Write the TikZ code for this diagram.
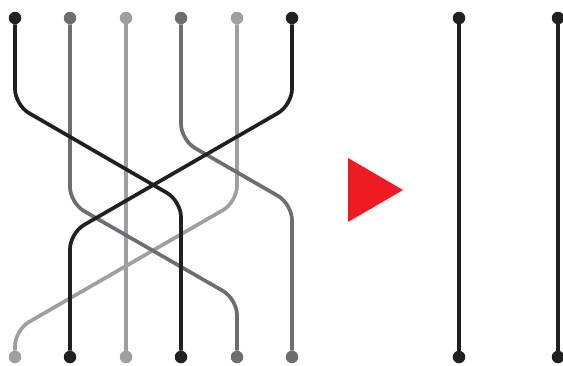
\documentclass[tikz,border=0pt]{standalone}
\usepackage{xcolor}
\definecolor{strblack}{HTML}{231F20}
\definecolor{strdark}{HTML}{6D6E71}
\definecolor{strlight}{HTML}{9D9FA2}
\definecolor{arrred}{HTML}{ED1C24}
\begin{document}
\begin{tikzpicture}[x=1pt,y=-1pt,
  dot/.style={circle,fill=#1,inner sep=0pt,minimum size=12.5pt},
  strand/.style={draw=#1,line width=3.7pt,rounded corners=16pt},
]
\useasboundingbox (0,0) rectangle (563,365);
% top dots
\node[dot=strblack] (t1) at (15,18) {};
\node[dot=strdark]  (t2) at (70,18) {};
\node[dot=strlight] (t3) at (126,18) {};
\node[dot=strdark]  (t4) at (181,18) {};
\node[dot=strlight] (t5) at (237,18) {};
\node[dot=strblack] (t6) at (292,18) {};
% bottom dots
\node[dot=strlight] (b1) at (15,357) {};
\node[dot=strblack] (b2) at (70,357) {};
\node[dot=strlight] (b3) at (126,357) {};
\node[dot=strblack] (b4) at (181,357) {};
\node[dot=strdark]  (b5) at (237,357) {};
\node[dot=strdark]  (b6) at (292,357) {};
% right
\node[dot=strblack] (r1t) at (459,18) {};
\node[dot=strblack] (r1b) at (459,357) {};
\node[dot=strblack] (r2t) at (558,18) {};
\node[dot=strblack] (r2b) at (558,357) {};
% strands
\draw[strand=strlight] (t3) -- (b3);
\draw[strand=strlight] (t5) -- (237,202) -- (15,330) -- (b1);
\draw[strand=strdark] (t2) -- (70,203) -- (237,299) -- (b5);
\draw[strand=strdark] (t4) -- (181,140) -- (292,204) -- (b6);
\draw[strand=strblack] (t1) -- (15,105) -- (181,201) -- (b4);
\draw[strand=strblack] (t6) -- (292,105) -- (70,233) -- (b2);
\draw[strand=strblack] (r1t) -- (r1b);
\draw[strand=strblack] (r2t) -- (r2b);
% red triangle
\fill[arrred] (348,158) -- (403,190) -- (348,222) -- cycle;
\end{tikzpicture}
\end{document}
